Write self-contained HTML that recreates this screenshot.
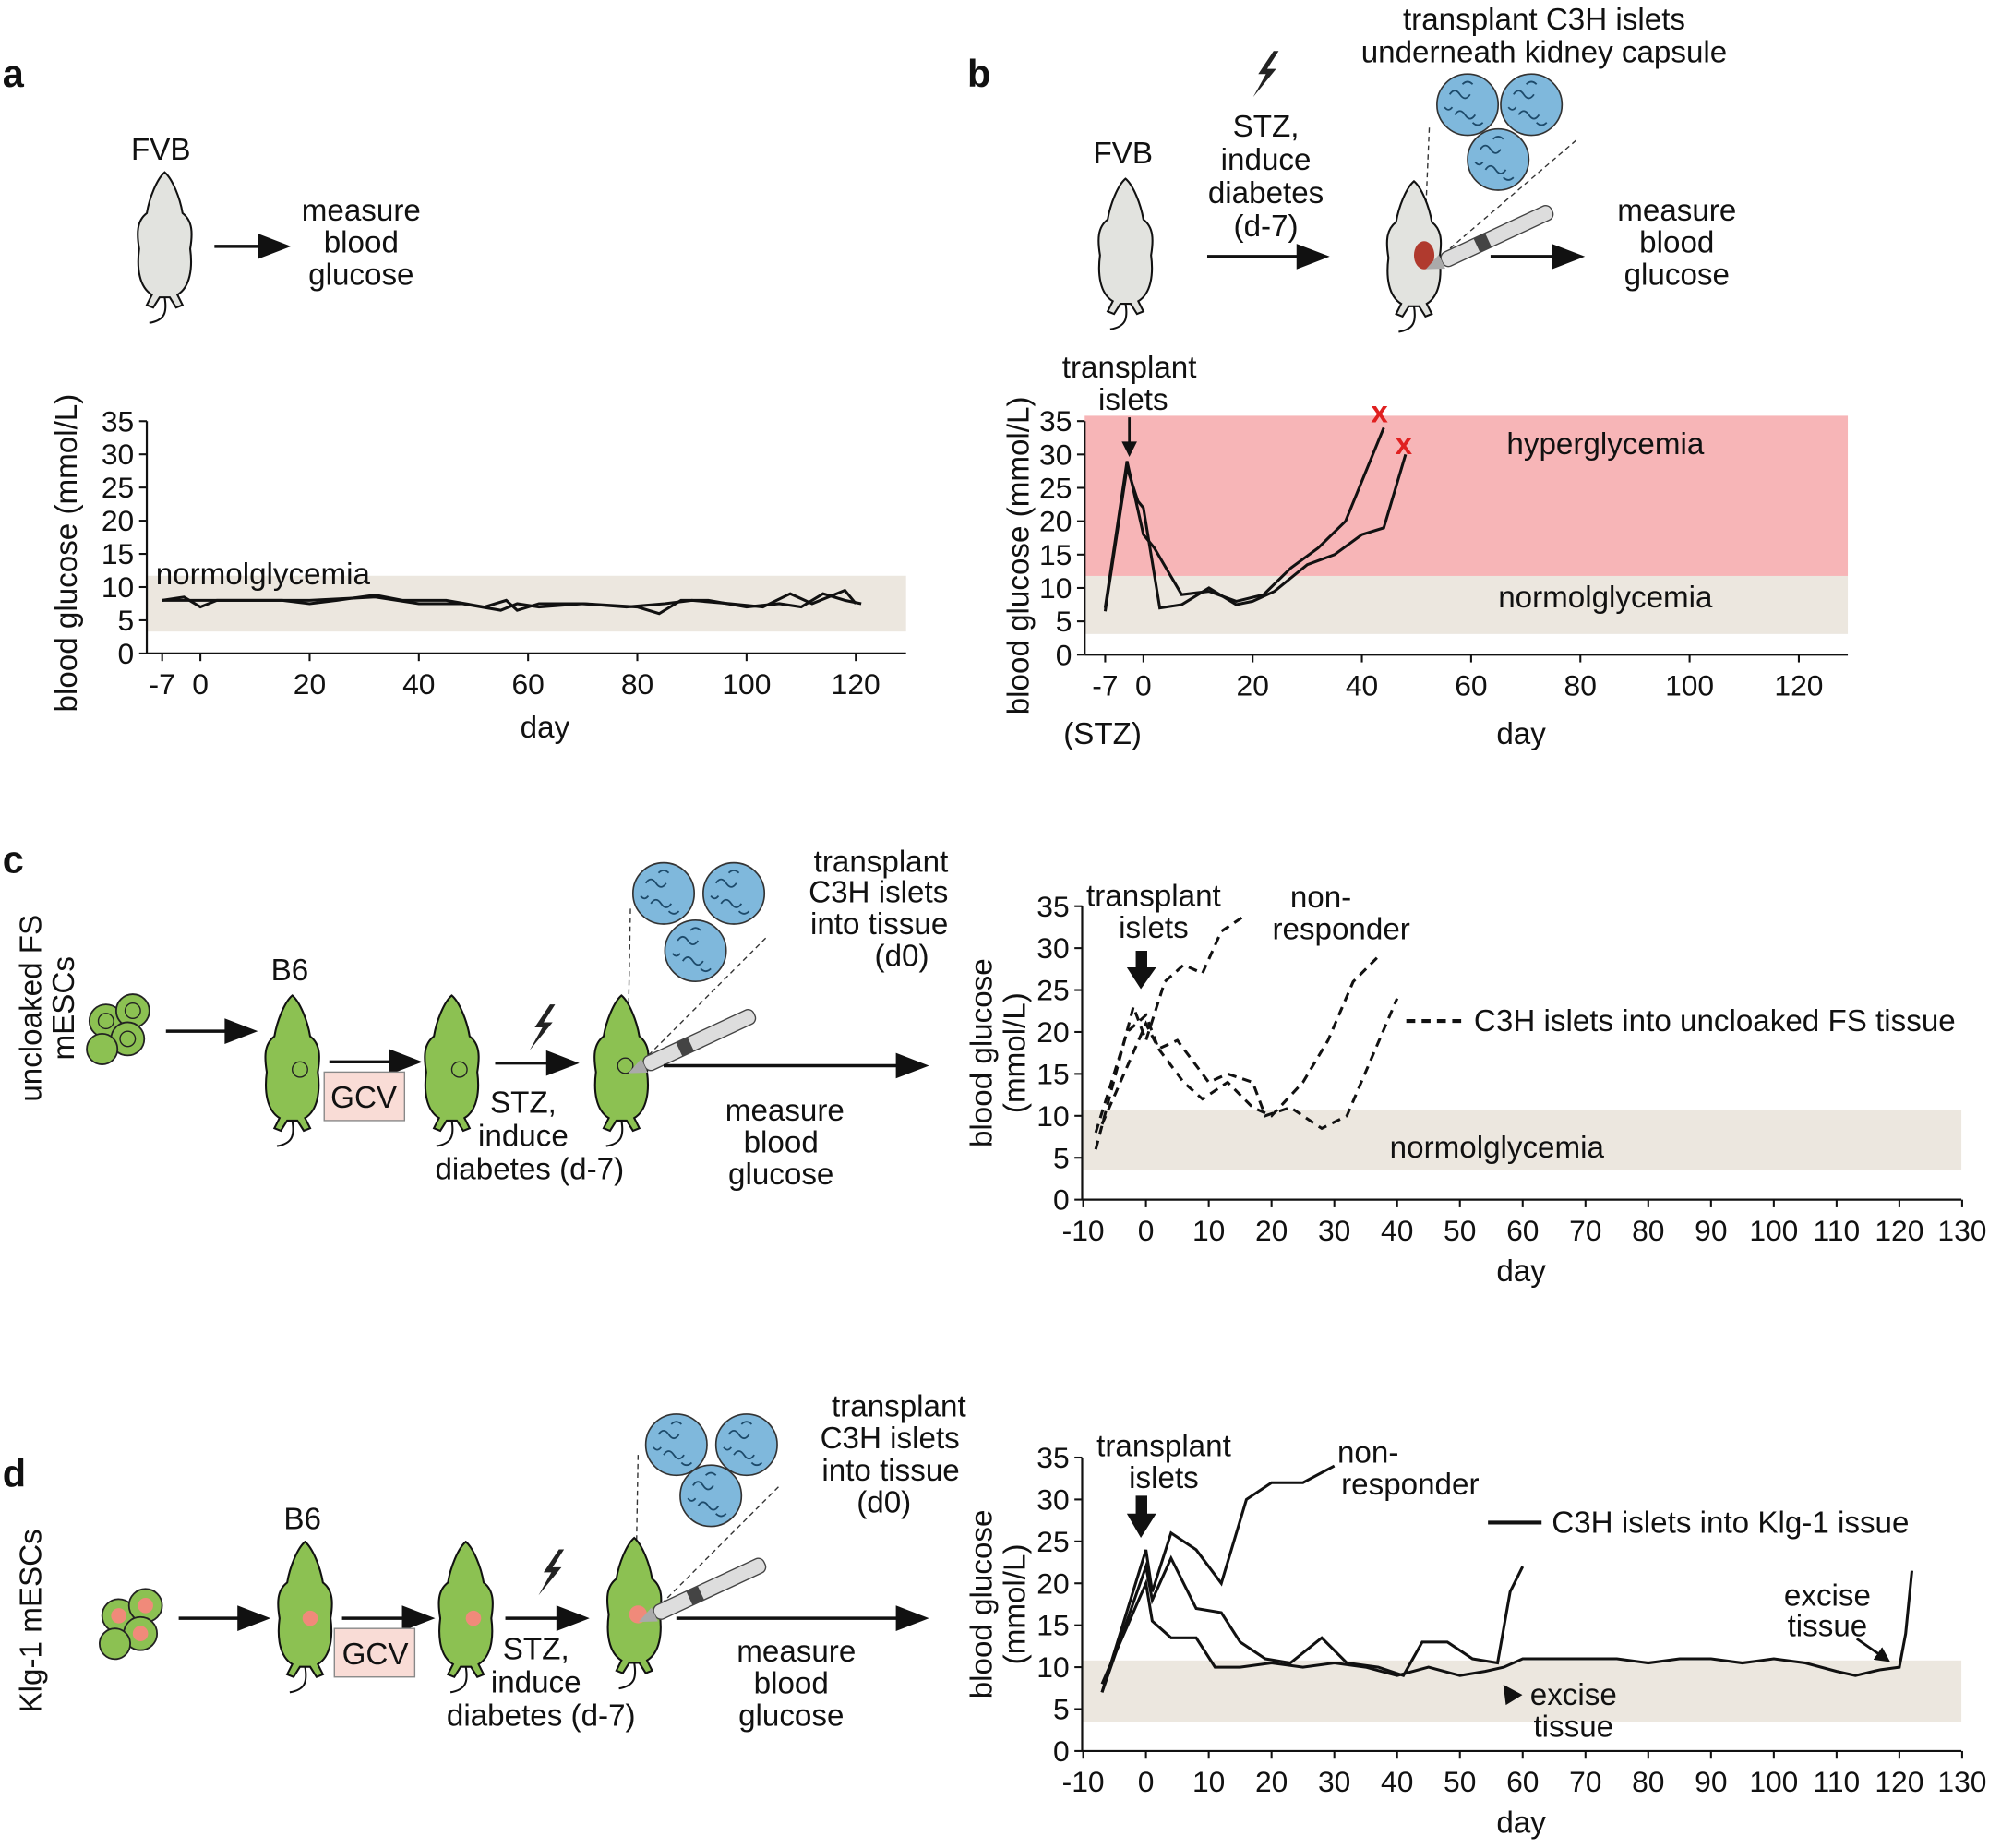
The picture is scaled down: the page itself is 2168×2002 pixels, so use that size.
<!DOCTYPE html>
<html><head><meta charset="utf-8"><style>
html,body{margin:0;padding:0;background:#fff;}
svg{display:block;}
text{font-family:"Liberation Sans",sans-serif;fill:#111;}
</style></head><body>
<svg id="s" width="2168" height="2002" viewBox="0 0 1568 1448" xmlns="http://www.w3.org/2000/svg">
<defs>
<g id="mouse">
<path d="M0,-50 C-6,-45 -12,-30 -14,-18 C-22,-12 -22,-2 -20,10 C-22,25 -20,40 -10,46 L-14,54 L-9,56 L-4,48 L4,48 L9,56 L14,54 L10,46 C20,40 22,25 20,10 C22,-2 22,-12 14,-18 C12,-30 6,-45 0,-50 Z" stroke="#111" stroke-width="1.5"/>
<path d="M0,48 C2,60 0,66 -12,68" fill="none" stroke="#111" stroke-width="1.5"/>
</g>
<g id="islet"><circle r="24" fill="#7fb8dc" stroke="#333" stroke-width="1.2"/>
<path d="M-14,-8 q4,-6 8,0 q4,6 8,0 M-10,8 q4,-6 8,0 q4,6 8,0 M-4,-16 q4,-4 8,0 M4,14 q4,4 8,0 M-18,2 q3,4 6,0" fill="none" stroke="#1d4a6a" stroke-width="1.3"/></g>
<g id="bolt"><path d="M8,-18 L-4,0 L2,0 L-8,18 L10,-4 L3,-4 L12,-18 Z" fill="#222"/></g>
<marker id="ah" markerWidth="6" markerHeight="6" refX="4" refY="3" orient="auto"><path d="M0,0 L6,3 L0,6 Z" fill="#111"/></marker>
</defs>

<text x="2" y="68" font-size="30" font-weight="bold">a</text>
<text x="758" y="68" font-size="30" font-weight="bold">b</text>
<text x="2" y="684" font-size="30" font-weight="bold">c</text>
<text x="2" y="1165" font-size="30" font-weight="bold">d</text>

<!-- panel a schematic -->
<text x="126" y="125" font-size="24" text-anchor="middle">FVB</text>
<use href="#mouse" x="129" y="185" fill="#e2e3df"/>
<line x1="168" y1="193" x2="205" y2="193" stroke="#111" stroke-width="2.5"/><path d="M202,183 L228,193 L202,203Z" fill="#111"/>
<text font-size="24" text-anchor="middle"><tspan x="283" y="173">measure</tspan><tspan x="283" y="198">blood</tspan><tspan x="283" y="223">glucose</tspan></text>

<!-- panel b schematic -->
<text x="880" y="128" font-size="24" text-anchor="middle">FVB</text>
<use href="#mouse" x="882" y="190" fill="#e2e3df"/>
<use href="#bolt" x="990" y="58"/>
<text font-size="24" text-anchor="middle"><tspan x="992" y="107">STZ,</tspan><tspan x="992" y="133">induce</tspan><tspan x="992" y="159">diabetes</tspan><tspan x="992" y="185">(d-7)</tspan></text>
<line x1="946" y1="201" x2="1020" y2="201" stroke="#111" stroke-width="2.5"/><path d="M1016,191 L1042,201 L1016,211Z" fill="#111"/>
<text font-size="24" text-anchor="middle"><tspan x="1210" y="23">transplant C3H islets</tspan><tspan x="1210" y="49">underneath kidney capsule</tspan></text>
<use href="#islet" x="1150" y="82"/><use href="#islet" x="1200" y="82"/><use href="#islet" x="1174" y="125"/>
<line x1="1120" y1="100" x2="1116" y2="195" stroke="#333" stroke-dasharray="4,3"/>
<line x1="1235" y1="110" x2="1130" y2="200" stroke="#333" stroke-dasharray="4,3"/>
<use href="#mouse" x="1108" y="192" fill="#e2e3df"/>
<ellipse cx="1116" cy="200" rx="8" ry="11" fill="#b03a2e"/>
<g transform="translate(1130,205) rotate(-25)"><rect x="0" y="-6" width="95" height="12" rx="5" fill="#ddd" stroke="#444"/><rect x="30" y="-6" width="10" height="12" fill="#444"/><path d="M0,-6 L-14,0 L0,6Z" fill="#aaa"/></g>
<line x1="1168" y1="201" x2="1220" y2="201" stroke="#111" stroke-width="2.5"/><path d="M1216,191 L1242,201 L1216,211Z" fill="#111"/>
<text font-size="24" text-anchor="middle"><tspan x="1314" y="173">measure</tspan><tspan x="1314" y="198">blood</tspan><tspan x="1314" y="223">glucose</tspan></text>

<g id="plots"></g>

<!-- panel c schematic -->
<text transform="translate(32,790) rotate(-90)" font-size="24" text-anchor="middle"><tspan x="0" y="0">uncloaked FS</tspan><tspan x="0" y="26">mESCs</tspan></text>
<g fill="#8cc152" stroke="#222" stroke-width="1.3"><circle cx="83" cy="800" r="13"/><circle cx="104" cy="792" r="13"/><circle cx="100" cy="814" r="13"/><circle cx="80" cy="822" r="12"/></g>
<g fill="none" stroke="#222"><circle cx="83" cy="800" r="6"/><circle cx="104" cy="792" r="6"/><circle cx="100" cy="814" r="6"/></g>
<line x1="130" y1="808" x2="180" y2="808" stroke="#111" stroke-width="2.5"/><path d="M176,798 L202,808 L176,818Z" fill="#111"/>
<text x="227" y="768" font-size="24" text-anchor="middle">B6</text>
<use href="#mouse" x="229" y="830" fill="#8cc152"/><circle cx="235" cy="838" r="6" fill="#8cc152" stroke="#222"/>
<line x1="258" y1="832" x2="308" y2="832" stroke="#111" stroke-width="2.5"/><path d="M305,822 L331,832 L305,842Z" fill="#111"/>
<rect x="254" y="840" width="63" height="38" fill="#f9dcd6" stroke="#888"/><text x="285" y="868" font-size="24" text-anchor="middle">GCV</text>
<use href="#mouse" x="354" y="830" fill="#8cc152"/><circle cx="360" cy="838" r="6" fill="#8cc152" stroke="#222"/>
<use href="#bolt" x="423" y="805"/>
<line x1="388" y1="833" x2="432" y2="833" stroke="#111" stroke-width="2.5"/><path d="M428,823 L454,833 L428,843Z" fill="#111"/>
<text font-size="24" text-anchor="middle"><tspan x="410" y="872">STZ,</tspan><tspan x="410" y="898">induce</tspan><tspan x="415" y="924">diabetes (d-7)</tspan></text>
<use href="#islet" x="520" y="700"/><use href="#islet" x="575" y="700"/><use href="#islet" x="545" y="745"/>
<line x1="494" y1="712" x2="492" y2="820" stroke="#333" stroke-dasharray="4,3"/><line x1="600" y1="735" x2="500" y2="835" stroke="#333" stroke-dasharray="4,3"/>
<use href="#mouse" x="487" y="830" fill="#8cc152"/><circle cx="490" cy="835" r="6" fill="#8cc152" stroke="#222"/>
<g transform="translate(505,835) rotate(-25)"><rect x="0" y="-6" width="95" height="12" rx="5" fill="#ddd" stroke="#444"/><rect x="30" y="-6" width="10" height="12" fill="#444"/><path d="M0,-6 L-14,0 L0,6Z" fill="#aaa"/></g>
<text font-size="24" text-anchor="end"><tspan x="743" y="683">transplant</tspan><tspan x="743" y="707">C3H islets</tspan><tspan x="743" y="732">into tissue</tspan><tspan x="728" y="757">(d0)</tspan></text>
<line x1="520" y1="835" x2="706" y2="835" stroke="#111" stroke-width="2.5"/><path d="M702,825 L728,835 L702,845Z" fill="#111"/>
<text font-size="24" text-anchor="middle"><tspan x="615" y="878">measure</tspan><tspan x="612" y="903">blood</tspan><tspan x="612" y="928">glucose</tspan></text>

<!-- panel d schematic -->
<text transform="translate(32,1270) rotate(-90)" font-size="24" text-anchor="middle"><tspan x="0" y="0">Klg-1 mESCs</tspan></text>
<g fill="#8cc152" stroke="#222" stroke-width="1.3"><circle cx="93" cy="1266" r="13"/><circle cx="114" cy="1258" r="13"/><circle cx="110" cy="1280" r="13"/><circle cx="90" cy="1288" r="12"/></g>
<g fill="#f08a7a"><circle cx="93" cy="1266" r="6"/><circle cx="114" cy="1258" r="6"/><circle cx="110" cy="1280" r="6"/></g>
<line x1="140" y1="1268" x2="190" y2="1268" stroke="#111" stroke-width="2.5"/><path d="M186,1258 L212,1268 L186,1278Z" fill="#111"/>
<text x="237" y="1198" font-size="24" text-anchor="middle">B6</text>
<use href="#mouse" x="239" y="1258" fill="#8cc152"/><circle cx="243" cy="1268" r="6" fill="#f08a7a"/>
<line x1="268" y1="1268" x2="318" y2="1268" stroke="#111" stroke-width="2.5"/><path d="M315,1258 L341,1268 L315,1278Z" fill="#111"/>
<rect x="262" y="1276" width="63" height="38" fill="#f9dcd6" stroke="#888"/><text x="294" y="1304" font-size="24" text-anchor="middle">GCV</text>
<use href="#mouse" x="365" y="1258" fill="#8cc152"/><circle cx="371" cy="1268" r="6" fill="#f08a7a"/>
<use href="#bolt" x="430" y="1232"/>
<line x1="396" y1="1268" x2="440" y2="1268" stroke="#111" stroke-width="2.5"/><path d="M436,1258 L462,1268 L436,1278Z" fill="#111"/>
<text font-size="24" text-anchor="middle"><tspan x="420" y="1300">STZ,</tspan><tspan x="420" y="1326">induce</tspan><tspan x="424" y="1352">diabetes (d-7)</tspan></text>
<use href="#islet" x="530" y="1132"/><use href="#islet" x="585" y="1132"/><use href="#islet" x="557" y="1172"/>
<line x1="500" y1="1140" x2="498" y2="1255" stroke="#333" stroke-dasharray="4,3"/><line x1="610" y1="1165" x2="510" y2="1265" stroke="#333" stroke-dasharray="4,3"/>
<use href="#mouse" x="497" y="1255" fill="#8cc152"/><circle cx="500" cy="1265" r="7" fill="#f08a7a"/>
<g transform="translate(513,1265) rotate(-25)"><rect x="0" y="-6" width="95" height="12" rx="5" fill="#ddd" stroke="#444"/><rect x="30" y="-6" width="10" height="12" fill="#444"/><path d="M0,-6 L-14,0 L0,6Z" fill="#aaa"/></g>
<text font-size="24" text-anchor="end"><tspan x="757" y="1110">transplant</tspan><tspan x="752" y="1135">C3H islets</tspan><tspan x="752" y="1160">into tissue</tspan><tspan x="714" y="1185">(d0)</tspan></text>
<line x1="530" y1="1268" x2="706" y2="1268" stroke="#111" stroke-width="2.5"/><path d="M702,1258 L728,1268 L702,1278Z" fill="#111"/>
<text font-size="24" text-anchor="middle"><tspan x="624" y="1302">measure</tspan><tspan x="620" y="1327">blood</tspan><tspan x="620" y="1352">glucose</tspan></text>
</svg>
<script>
var NS="http://www.w3.org/2000/svg",G=document.getElementById("plots");
function el(t,a,txt){var e=document.createElementNS(NS,t);for(var k in a)e.setAttribute(k,a[k]);if(txt!=null)e.textContent=txt;G.appendChild(e);return e;}
function plot(o){
 var X=function(d){return o.x0+d*o.dx},Y=function(v){return o.y0-v*o.dy};
 o.bands.forEach(function(b){el("rect",{x:o.ax,y:Y(b[1]),width:o.xe-o.ax,height:Y(b[0])-Y(b[1]),fill:b[2]});});
 el("line",{x1:o.ax,y1:o.y0,x2:o.xe,y2:o.y0,stroke:"#111","stroke-width":1.6});
 el("line",{x1:o.ax,y1:o.y0,x2:o.ax,y2:Y(35),stroke:"#111","stroke-width":1.6});
 for(var v=0;v<=35;v+=5){el("line",{x1:o.ax-6,y1:Y(v),x2:o.ax,y2:Y(v),stroke:"#111","stroke-width":1.5});el("text",{x:o.ax-10,y:Y(v)+8,"font-size":23,"text-anchor":"end"},String(v));}
 o.xt.forEach(function(d){el("line",{x1:X(d),y1:o.y0,x2:X(d),y2:o.y0+6,stroke:"#111","stroke-width":1.5});el("text",{x:X(d),y:o.y0+32,"font-size":23,"text-anchor":"middle"},String(d));});
 o.series.forEach(function(s){el("polyline",{points:s.map(function(p){return X(p[0])+","+Y(p[1])}).join(" "),fill:"none",stroke:"#111","stroke-width":2.2,"stroke-dasharray":o.dash||"none"});});
}
plot({ax:115,xe:710,x0:157,dx:4.28,y0:512,dy:5.2,xt:[-7,0,20,40,60,80,100,120],bands:[[3.3,11.7,"#ece7df"]],
 series:[[[-7,8],[-3,8.5],[0,7],[3,8],[10,8],[15,8],[20,7.5],[25,8],[32,8.8],[37,8],[45,8],[52,7],[56,8],[58,6.5],[62,7.5],[70,7.5],[78,7],[85,7.5],[90,8],[97,7.5],[103,7],[108,9],[112,7.5],[118,9.5],[120,7.5]],
 [[-7,8],[-3,8],[0,8],[5,8],[10,8],[20,8],[32,8.5],[40,7.5],[48,7.5],[55,6.5],[58,7.5],[62,7],[70,7.5],[80,7],[84,6],[88,8],[93,8],[100,7],[106,7.5],[110,7],[114,9],[118,8],[121,7.5]]]});
plot({ax:850,xe:1448,x0:896,dx:4.28,y0:513,dy:5.23,xt:[-7,0,20,40,60,80,100,120],bands:[[3.1,11.8,"#ece7df"],[11.8,35.8,"#f7b5b7"]],
 series:[[[-7,7],[-3,29],[0,18],[2,16],[7,9],[12,9.5],[17,8],[22,9],[27,13],[32,16],[37,20],[41,28],[44,34]],
 [[-7,6.5],[-3,28],[-1,23],[0,22],[3,7],[7,7.5],[12,10],[17,7.5],[20,8],[24,9.5],[30,13.5],[35,15],[40,18],[44,19],[48,30]]]});
plot({ax:848,xe:1537,x0:898,dx:4.92,y0:940,dy:6.57,xt:[-10,0,10,20,30,40,50,60,70,80,90,100,110,120,130],bands:[[3.5,10.7,"#ece7df"]],dash:"7,5",
 series:[[[-8,6],[-2,23],[0,19],[3,26],[6,28],[9,27],[12,32],[16,34]],
 [[-8,8],[-3,20],[0,22],[2,18],[5,19],[10,14],[13,15],[17,14],[19,10],[23,11],[28,8.5],[32,10],[36,17],[40,24]],
 [[-7,9],[0,21],[2,18],[6,14],[9,12],[13,14],[17,11],[20,10],[25,14],[29,19],[33,26],[37,29]]]});
plot({ax:848,xe:1537,x0:898,dx:4.92,y0:1372,dy:6.57,xt:[-10,0,10,20,30,40,50,60,70,80,90,100,110,120,130],bands:[[3.5,10.8,"#ece7df"]],
 series:[[[-7,7],[0,24],[1,19],[4,26],[8,24],[12,20],[16,30],[20,32],[25,32],[30,34]],
 [[-7,7],[0,22],[1,18],[4,23],[8,17],[12,16.5],[15,13],[19,11],[23,10.5],[28,13.5],[32,10.5],[37,10],[41,9],[44,13],[48,13],[52,11],[56,10.5],[58,19],[60,22]],
 [[-7,8],[0,20],[1,15.5],[4,13.5],[8,13.5],[11,10],[15,10],[20,10.5],[25,10],[30,10.5],[35,10],[40,9],[45,10],[50,9],[54,9.5],[57,10],[60,11],[65,11],[70,11],[75,11],[80,10.5],[85,11],[90,11],[95,10.5],[100,11],[105,10.5],[110,9.5],[113,9],[117,9.7],[120,10],[121,14],[122,21.5]]]});
function T(x,y,s,o){o=o||{};o.x=x;o.y=y;o["font-size"]=o["font-size"]||24;el("text",o,s);}
T(60,558,"blood glucose (mmol/L)",{transform:"rotate(-90 60 558)","text-anchor":"start"});
T(122,458,"normolglycemia");T(427,578,"day",{"text-anchor":"middle"});
T(806,560,"blood glucose (mmol/L)",{transform:"rotate(-90 806 560)"});
T(1258,356,"hyperglycemia",{"text-anchor":"middle"});T(1258,476,"normolglycemia",{"text-anchor":"middle"});
T(885,296,"transplant",{"text-anchor":"middle"});T(888,321,"islets",{"text-anchor":"middle"});
el("line",{x1:885,y1:327,x2:885,y2:350,stroke:"#111","stroke-width":2});el("path",{d:"M879,346 L885,358 L891,346Z",fill:"#111"});
T(864,583,"(STZ)",{"text-anchor":"middle"});T(1192,583,"day",{"text-anchor":"middle"});
T(1081,331,"x",{"text-anchor":"middle",style:"fill:#e02020","font-weight":"bold"});
T(1100,356,"x",{"text-anchor":"middle",style:"fill:#e02020","font-weight":"bold"});
T(777,825,"blood glucose",{transform:"rotate(-90 777 825)","text-anchor":"middle"});T(803,825,"(mmol/L)",{transform:"rotate(-90 803 825)","text-anchor":"middle"});
T(904,710,"transplant",{"text-anchor":"middle"});T(904,735,"islets",{"text-anchor":"middle"});
el("path",{d:"M890,745 L899,745 L899,758 L906,758 L894,775 L883,758 L890,758Z",fill:"#111"});
T(1035,711,"non-",{"text-anchor":"middle"});T(1051,736,"responder",{"text-anchor":"middle"});
el("line",{x1:1102,y1:800,x2:1145,y2:800,stroke:"#111","stroke-width":3,"stroke-dasharray":"7,5"});
T(1155,808,"C3H islets into uncloaked FS tissue");
T(1173,907,"normolglycemia",{"text-anchor":"middle"});T(1192,1004,"day",{"text-anchor":"middle"});
T(777,1257,"blood glucose",{transform:"rotate(-90 777 1257)","text-anchor":"middle"});T(803,1257,"(mmol/L)",{transform:"rotate(-90 803 1257)","text-anchor":"middle"});
T(912,1141,"transplant",{"text-anchor":"middle"});T(912,1166,"islets",{"text-anchor":"middle"});
el("path",{d:"M890,1172 L899,1172 L899,1186 L906,1186 L894,1205 L883,1186 L890,1186Z",fill:"#111"});
T(1072,1146,"non-",{"text-anchor":"middle"});T(1105,1171,"responder",{"text-anchor":"middle"});
el("line",{x1:1166,y1:1193,x2:1208,y2:1193,stroke:"#111","stroke-width":3});
T(1216,1201,"C3H islets into Klg-1 issue");
T(1432,1258,"excise",{"text-anchor":"middle"});T(1432,1282,"tissue",{"text-anchor":"middle"});
el("line",{x1:1455,y1:1284,x2:1478,y2:1300,stroke:"#111","stroke-width":2,"marker-end":"url(#ah)"});
T(1233,1336,"excise",{"text-anchor":"middle"});T(1233,1361,"tissue",{"text-anchor":"middle"});
el("path",{d:"M1178,1320 L1193,1328 L1180,1336Z",fill:"#111"});
T(1192,1436,"day",{"text-anchor":"middle"});
</script>
</body></html>
